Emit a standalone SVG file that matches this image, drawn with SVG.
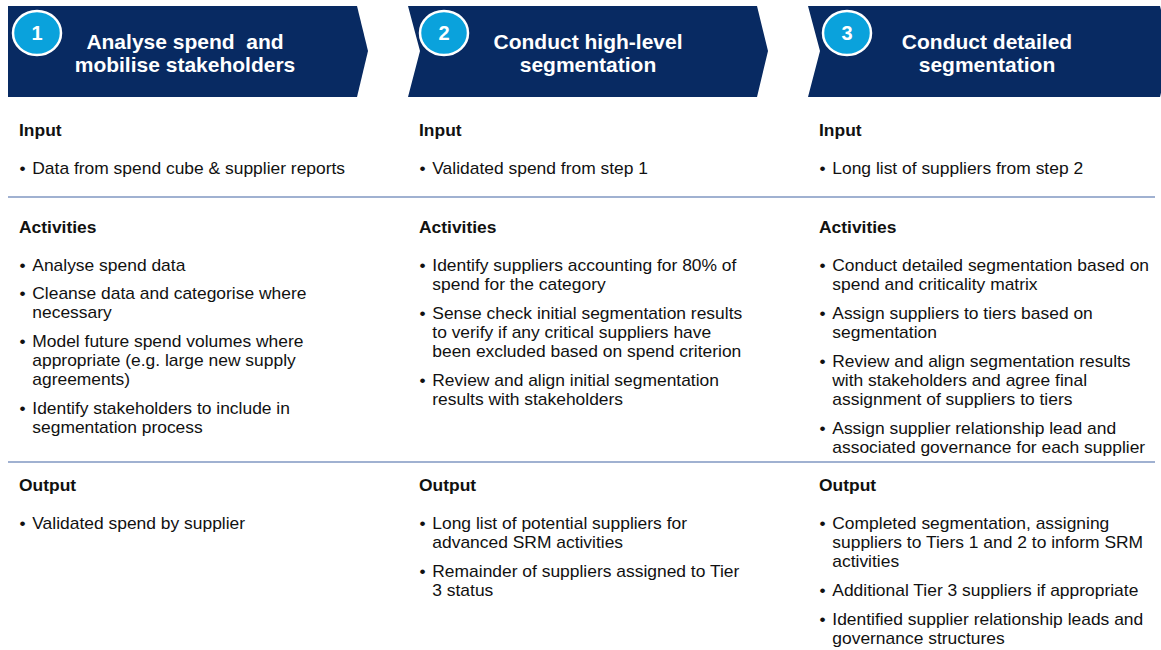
<svg xmlns="http://www.w3.org/2000/svg" width="1161" height="650" viewBox="0 0 1161 650">
  <defs>
    <style>
      .chev { fill: #082a62; }
      .badge { fill: #0aa2dc; stroke: #ffffff; stroke-width: 2.5; }
      .num { font-family: "Liberation Sans", Arial, sans-serif; font-weight: bold; font-size: 20px; fill: #ffffff; text-anchor: middle; }
      .title { font-family: "Liberation Sans", Arial, sans-serif; font-weight: bold; font-size: 21px; fill: #ffffff; text-anchor: middle; }
      .head { font-family: "Liberation Sans", Arial, sans-serif; font-weight: bold; font-size: 16px; fill: #111111; }
      .body { font-family: "Liberation Sans", Arial, sans-serif; font-size: 16px; fill: #111111; }
      .rule { stroke: #8197c2; stroke-width: 1.5; fill: none; }
    </style>
  </defs>
  <rect width="1161" height="650" fill="#ffffff"/>

  <!-- step headers -->
  <g id="step1">
    <path class="chev" d="M8,6 L357,6 L368,51 L357,97 L8,97 Z"/>
    <ellipse class="badge" cx="37" cy="33" rx="24" ry="22"/>
    <text class="num" x="37" y="40">1</text>
    <text class="title" x="185" y="48.5" xml:space="preserve">Analyse spend  and</text>
    <text class="title" x="185" y="72">mobilise stakeholders</text>
  </g>
  <g id="step2">
    <path class="chev" d="M408,6 L757,6 L768,51 L757,97 L408,97 L420,51 Z"/>
    <ellipse class="badge" cx="444" cy="33" rx="24" ry="22"/>
    <text class="num" x="444" y="40">2</text>
    <text class="title" x="588" y="48.5">Conduct high-level</text>
    <text class="title" x="588" y="72">segmentation</text>
  </g>
  <g id="step3">
    <path class="chev" d="M808,6 L1160,6 L1171,51 L1160,97 L808,97 L820,51 Z"/>
    <ellipse class="badge" cx="847" cy="33" rx="24" ry="22"/>
    <text class="num" x="847" y="40">3</text>
    <text class="title" x="987" y="48.5">Conduct detailed</text>
    <text class="title" x="987" y="72">segmentation</text>
  </g>

  <!-- section separators -->
  <g id="separators">
    <line class="rule" x1="8" y1="197" x2="1155" y2="197"/>
    <line class="rule" x1="8" y1="462" x2="1155" y2="462"/>
  </g>

  <!-- column 1 -->
  <g id="col1" transform="translate(19,0) scale(1.09,1)">
    <text class="head" x="0" y="136">Input</text>
    <text class="body" x="0.5" y="174">•</text><text class="body" x="12.2" y="174">Data from spend cube &amp; supplier reports</text>

    <text class="head" x="0" y="233">Activities</text>
    <text class="body" x="0.5" y="271">•</text><text class="body" x="12.2" y="271">Analyse spend data</text>
    <text class="body" x="0.5" y="299.5">•</text><text class="body" x="12.2" y="299.5">Cleanse data and categorise where</text>
    <text class="body" x="12.2" y="318.5">necessary</text>
    <text class="body" x="0.5" y="347">•</text><text class="body" x="12.2" y="347">Model future spend volumes where</text>
    <text class="body" x="12.2" y="366">appropriate (e.g. large new supply</text>
    <text class="body" x="12.2" y="385">agreements)</text>
    <text class="body" x="0.5" y="414">•</text><text class="body" x="12.2" y="414">Identify stakeholders to include in</text>
    <text class="body" x="12.2" y="433">segmentation process</text>

    <text class="head" x="0" y="491">Output</text>
    <text class="body" x="0.5" y="529">•</text><text class="body" x="12.2" y="529">Validated spend by supplier</text>
  </g>

  <!-- column 2 -->
  <g id="col2" transform="translate(419,0) scale(1.09,1)">
    <text class="head" x="0" y="136">Input</text>
    <text class="body" x="0.5" y="174">•</text><text class="body" x="12.2" y="174">Validated spend from step 1</text>

    <text class="head" x="0" y="233">Activities</text>
    <text class="body" x="0.5" y="271">•</text><text class="body" x="12.2" y="271">Identify suppliers accounting for 80% of</text>
    <text class="body" x="12.2" y="290">spend for the category</text>
    <text class="body" x="0.5" y="319">•</text><text class="body" x="12.2" y="319">Sense check initial segmentation results</text>
    <text class="body" x="12.2" y="338">to verify if any critical suppliers have</text>
    <text class="body" x="12.2" y="357">been excluded based on spend criterion</text>
    <text class="body" x="0.5" y="386">•</text><text class="body" x="12.2" y="386">Review and align initial segmentation</text>
    <text class="body" x="12.2" y="405">results with stakeholders</text>

    <text class="head" x="0" y="491">Output</text>
    <text class="body" x="0.5" y="529">•</text><text class="body" x="12.2" y="529">Long list of potential suppliers for</text>
    <text class="body" x="12.2" y="548">advanced SRM activities</text>
    <text class="body" x="0.5" y="577">•</text><text class="body" x="12.2" y="577">Remainder of suppliers assigned to Tier</text>
    <text class="body" x="12.2" y="596">3 status</text>
  </g>

  <!-- column 3 -->
  <g id="col3" transform="translate(819,0) scale(1.09,1)">
    <text class="head" x="0" y="136">Input</text>
    <text class="body" x="0.5" y="174">•</text><text class="body" x="12.2" y="174">Long list of suppliers from step 2</text>

    <text class="head" x="0" y="233">Activities</text>
    <text class="body" x="0.5" y="271">•</text><text class="body" x="12.2" y="271">Conduct detailed segmentation based on</text>
    <text class="body" x="12.2" y="290">spend and criticality matrix</text>
    <text class="body" x="0.5" y="319">•</text><text class="body" x="12.2" y="319">Assign suppliers to tiers based on</text>
    <text class="body" x="12.2" y="338">segmentation</text>
    <text class="body" x="0.5" y="367">•</text><text class="body" x="12.2" y="367">Review and align segmentation results</text>
    <text class="body" x="12.2" y="386">with stakeholders and agree final</text>
    <text class="body" x="12.2" y="405">assignment of suppliers to tiers</text>
    <text class="body" x="0.5" y="434">•</text><text class="body" x="12.2" y="434">Assign supplier relationship lead and</text>
    <text class="body" x="12.2" y="453">associated governance for each supplier</text>

    <text class="head" x="0" y="491">Output</text>
    <text class="body" x="0.5" y="529">•</text><text class="body" x="12.2" y="529">Completed segmentation, assigning</text>
    <text class="body" x="12.2" y="548">suppliers to Tiers 1 and 2 to inform SRM</text>
    <text class="body" x="12.2" y="567">activities</text>
    <text class="body" x="0.5" y="596">•</text><text class="body" x="12.2" y="596">Additional Tier 3 suppliers if appropriate</text>
    <text class="body" x="0.5" y="625">•</text><text class="body" x="12.2" y="625">Identified supplier relationship leads and</text>
    <text class="body" x="12.2" y="644">governance structures</text>
  </g>
</svg>
